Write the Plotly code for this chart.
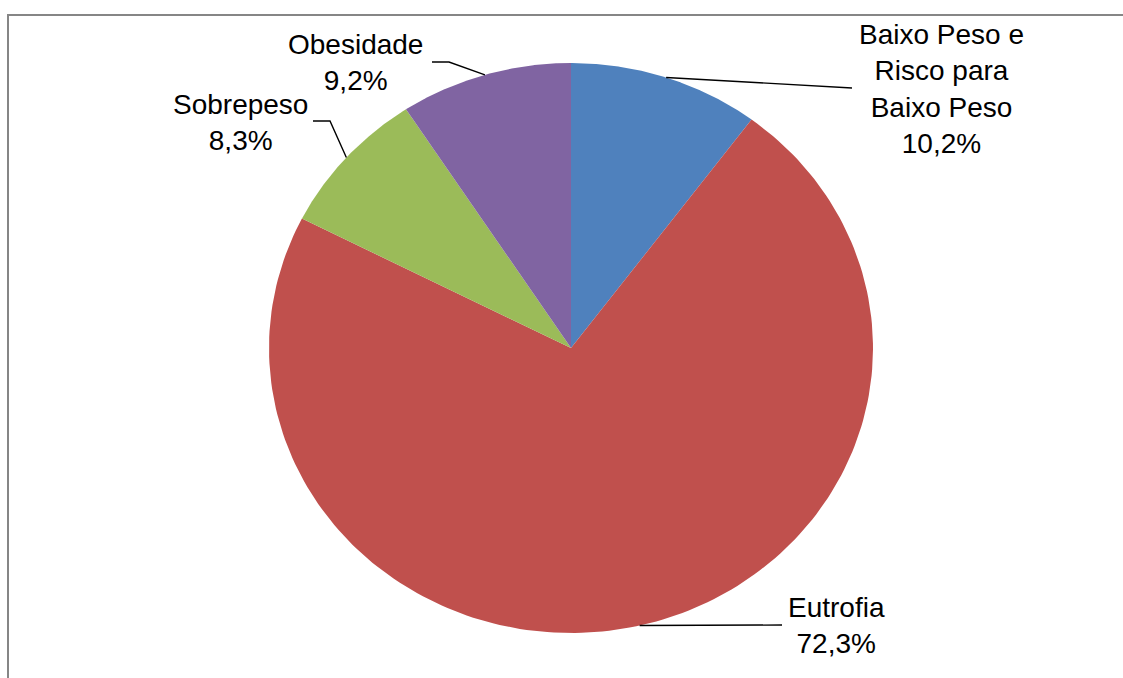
import numpy as np
import plotly.graph_objects as go

# ---- data ----
categories = ["Baixo Peso e Risco para Baixo Peso", "Eutrofia", "Sobrepeso", "Obesidade"]
label_lines = ["Baixo Peso e<br>Risco para<br>Baixo Peso", "Eutrofia", "Sobrepeso", "Obesidade"]
values = [10.2, 72.3, 8.3, 9.2]
colors = ["#4F81BD", "#C0504D", "#9BBB59", "#8064A2"]

# ---- canvas / pie geometry (pixels) ----
W, H = 1123, 678
CX, CY = 571, 348          # pie centre
RX, RY = 302, 285          # horizontal / vertical radius

def ux(px):
    return (px - CX) / RX

def uy(py):
    return (CY - py) / RY

# label anchors (pixel) and leader elbow/end points (pixel)
label_pos = [(941, 89), (836, 625), (240, 122), (355, 62)]
leader_pts = [
    [(852, 88)],
    [(782, 625)],
    [(330, 121), (313, 121)],
    [(449, 62), (432, 62)],
]

fig = go.Figure()

total = sum(values)
start = 0.0
mids = []
for cat, v, col in zip(categories, values, colors):
    a0 = start / total * 2 * np.pi
    a1 = (start + v) / total * 2 * np.pi
    t = np.linspace(a0, a1, 200)
    xs = np.concatenate([[0], np.sin(t), [0]])
    ys = np.concatenate([[0], np.cos(t), [0]])
    fig.add_trace(go.Scatter(
        x=xs, y=ys, mode="lines", fill="toself", fillcolor=col,
        line=dict(width=0, color=col), name=cat, hoverinfo="name",
        showlegend=False,
    ))
    mids.append((a0 + a1) / 2)
    start += v

# leader lines from slice mid-angle on the rim to the label
for m, pts in zip(mids, leader_pts):
    xs = [np.sin(m)] + [ux(p[0]) for p in pts]
    ys = [np.cos(m)] + [uy(p[1]) for p in pts]
    fig.add_trace(go.Scatter(
        x=xs, y=ys, mode="lines", line=dict(color="black", width=1.4),
        hoverinfo="skip", showlegend=False,
    ))

for name, v, (px, py) in zip(label_lines, values, label_pos):
    pct = f"{v:.1f}".replace(".", ",") + "%"
    fig.add_annotation(
        x=ux(px), y=uy(py), xref="x", yref="y",
        text=f"{name}<br>{pct}", showarrow=False,
        font=dict(family="Liberation Sans, Arial, sans-serif", size=28, color="black"),
        align="center", xanchor="center", yanchor="middle",
    )

# chart area frame
fig.add_shape(
    type="rect", xref="paper", yref="paper",
    x0=8 / W, x1=1.2, y0=-0.2, y1=1 - 15 / H,
    line=dict(color="#868686", width=2), fillcolor="rgba(0,0,0,0)", layer="above",
)

fig.update_layout(
    width=W, height=H,
    margin=dict(l=0, r=0, t=0, b=0),
    paper_bgcolor="white", plot_bgcolor="white",
    xaxis=dict(range=[ux(0), ux(W)], visible=False, fixedrange=True),
    yaxis=dict(range=[uy(H), uy(0)], visible=False, fixedrange=True),
    showlegend=False,
)

fig.write_html("out.html")
